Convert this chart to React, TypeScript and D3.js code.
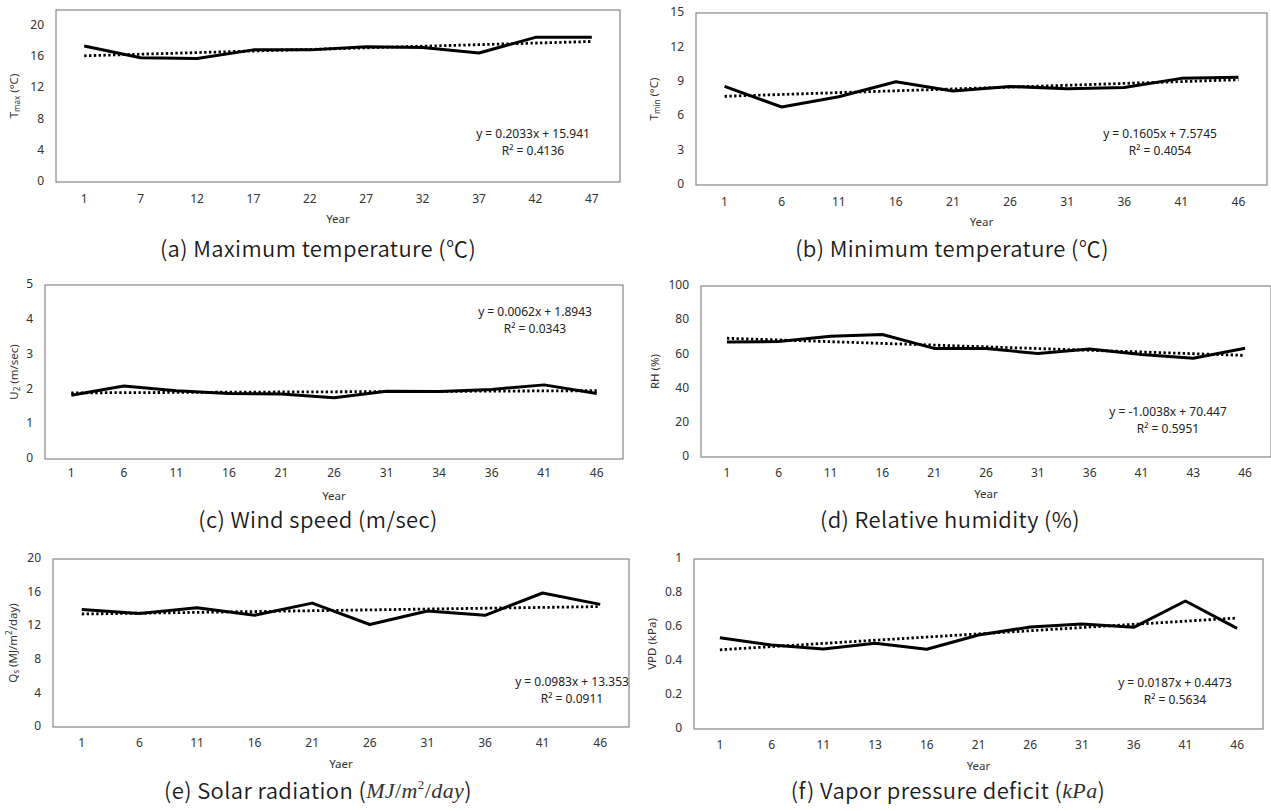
import React from 'react';
import * as d3 from 'd3';

// categories (year index labels) per panel
const yearsA = ['1', '7', '12', '17', '22', '27', '32', '37', '42', '47'];
const yearsB = ['1', '6', '11', '16', '21', '26', '31', '36', '41', '46'];
const yearsC = ['1', '6', '11', '16', '21', '26', '31', '34', '36', '41', '46'];
const yearsD = ['1', '6', '11', '16', '21', '26', '31', '36', '41', '43', '46'];
const yearsE = ['1', '6', '11', '16', '21', '26', '31', '36', '41', '46'];
const yearsF = ['1', '6', '11', '13', '16', '21', '26', '31', '36', '41', '46'];

// series values
const tmaxValues = [17.4, 15.9, 15.8, 16.9, 16.9, 17.3, 17.2, 16.5, 18.5, 18.5];
const tminValues = [8.6, 6.8, 7.7, 9.0, 8.2, 8.6, 8.4, 8.5, 9.3, 9.4];
const windValues = [1.83, 2.1, 1.96, 1.88, 1.87, 1.76, 1.95, 1.94, 2.0, 2.13, 1.88];
const rhValues = [67.3, 67.5, 70.6, 71.6, 63.5, 63.5, 60.5, 63.1, 60.0, 57.8, 63.6];
const solarValues = [14.0, 13.5, 14.2, 13.3, 14.75, 12.2, 13.8, 13.3, 15.95, 14.6];
const vpdValues = [0.537, 0.494, 0.47, 0.504, 0.469, 0.553, 0.6, 0.617, 0.598, 0.753, 0.592];

// linear trend lines (slope, intercept) as printed on each panel
const trendSlopes = [0.2033, 0.1605, 0.0062, -1.0038, 0.0983, 0.0187];
const trendIntercepts = [15.941, 7.5745, 1.8943, 70.447, 13.353, 0.4473];
const eqTexts = [
  'y = 0.2033x + 15.941',
  'y = 0.1605x + 7.5745',
  'y = 0.0062x + 1.8943',
  'y = -1.0038x + 70.447',
  'y = 0.0983x + 13.353',
  'y = 0.0187x + 0.4473',
];
const r2Texts = ['0.4136', '0.4054', '0.0343', '0.5951', '0.0911', '0.5634'];

// y axis ranges
const yMaxes = [22, 15, 5, 100, 20, 1];
const yTickValues = [
  [0, 4, 8, 12, 16, 20],
  [0, 3, 6, 9, 12, 15],
  [0, 1, 2, 3, 4, 5],
  [0, 20, 40, 60, 80, 100],
  [0, 4, 8, 12, 16, 20],
  [0, 0.2, 0.4, 0.6, 0.8, 1],
];
const xTitles = ['Year', 'Year', 'Year', 'Year', 'Yaer', 'Year'];

const FONT = 'Noto Sans, Open Sans, sans-serif';
const CAPFONT = '"Noto Sans CJK KR", "Noto Sans", sans-serif';
const MATH = '"Liberation Serif", "DejaVu Serif", serif';

type PanelProps = {
  idx: number;
  cats: string[];
  values: number[];
  box: { l: number; t: number; r: number; b: number };
  eqPos: [number, number];
  yLabelX: number;
  yLabel: React.ReactNode;
  labelGap?: number;
};

const Panel = ({ idx, cats, values, box, eqPos, yLabelX, yLabel, labelGap = 17 }: PanelProps) => {
  const x = d3.scaleBand<string>().domain(cats).range([box.l, box.r]);
  const y = d3.scaleLinear().domain([0, yMaxes[idx]]).range([box.b, box.t]);
  const cx = (c: string) => (x(c) as number) + x.bandwidth() / 2;

  const line = d3
    .line<number>()
    .x((_, i) => cx(cats[i]))
    .y((d) => y(d));

  const n = cats.length;
  const tr = (k: number) => trendSlopes[idx] * k + trendIntercepts[idx];
  const fmt = (v: number) => (yMaxes[idx] <= 1 && v !== 0 && v !== 1 ? d3.format('.1f')(v) : String(v));

  return (
    <g>
      <rect x={box.l} y={box.t} width={box.r - box.l} height={box.b - box.t} fill="#fff" stroke="#868686" strokeWidth={1.2} />
      {yTickValues[idx].map((t) => (
        <text key={t} x={box.l - 12} y={y(t)} textAnchor="end" dominantBaseline="middle" fontSize={12} fontFamily={FONT} fill="#333">
          {fmt(t)}
        </text>
      ))}
      {cats.map((c) => (
        <text key={c} x={cx(c)} y={box.b + labelGap} textAnchor="middle" dominantBaseline="middle" fontSize={12} fontFamily={FONT} fill="#333">
          {c}
        </text>
      ))}
      <text x={(box.l + box.r) / 2} y={box.b + 38} textAnchor="middle" dominantBaseline="middle" fontSize={11.5} fontFamily={FONT} fill="#333">
        {xTitles[idx]}
      </text>
      <text transform={`translate(${yLabelX},${(box.t + box.b) / 2}) rotate(-90)`} textAnchor="middle" dominantBaseline="middle" fontSize={11.5} fontFamily={FONT} fill="#333">
        {yLabel}
      </text>
      <line
        x1={cx(cats[0])}
        y1={y(tr(1))}
        x2={cx(cats[n - 1])}
        y2={y(tr(n))}
        stroke="#000"
        strokeWidth={2.8}
        strokeDasharray="2.4 2.4"
      />
      <path d={line(values) || ''} fill="none" stroke="#000" strokeWidth={3} strokeLinejoin="round" />
      <text x={eqPos[0]} y={eqPos[1]} textAnchor="middle" dominantBaseline="middle" fontSize={12} fontFamily={FONT} fill="#222">
        {eqTexts[idx]}
      </text>
      <text x={eqPos[0]} y={eqPos[1] + 17} textAnchor="middle" dominantBaseline="middle" fontSize={12} fontFamily={FONT} fill="#222">
        R² = {r2Texts[idx]}
      </text>
    </g>
  );
};

const sub = (s: string) => (
  <tspan fontSize={8} dy={3}>
    {s}
  </tspan>
);

const Caption = ({ x, y, children }: { x: number; y: number; children: React.ReactNode }) => (
  <text
    x={x}
    y={y}
    textAnchor="middle"
    dominantBaseline="middle"
    fontSize={22}
    fontWeight={350}
    letterSpacing={0.4}
    fontFamily={CAPFONT}
    fill="#1a1a1a"
  >
    {children}
  </text>
);

export default function App() {
  return (
    <svg width={1271} height={811} style={{ position: 'absolute', left: 0, top: 0, background: '#fff' }}>
      <Panel
        idx={0}
        cats={yearsA}
        values={tmaxValues}
        box={{ l: 56, t: 10, r: 620, b: 182 }}
        eqPos={[533, 135]}
        yLabelX={15}
        labelGap={18}
        yLabel={
          <>
            T{sub('max')}
            <tspan dy={-3}> (°C)</tspan>
          </>
        }
      />
      <Panel
        idx={1}
        cats={yearsB}
        values={tminValues}
        box={{ l: 696, t: 13, r: 1267, b: 185 }}
        eqPos={[1160, 135]}
        yLabelX={655}
        labelGap={18}
        yLabel={
          <>
            T{sub('min')}
            <tspan dy={-3}> (°C)</tspan>
          </>
        }
      />
      <Panel
        idx={2}
        cats={yearsC}
        values={windValues}
        box={{ l: 45, t: 285, r: 623, b: 459 }}
        eqPos={[535, 313]}
        yLabelX={15}
        labelGap={15}
        yLabel={
          <>
            U{sub('2')}
            <tspan dy={-3}> (m/sec)</tspan>
          </>
        }
      />
      <Panel
        idx={3}
        cats={yearsD}
        values={rhValues}
        box={{ l: 701, t: 286, r: 1271, b: 457 }}
        eqPos={[1168, 413]}
        yLabelX={656}
        yLabel={<>RH (%)</>}
      />
      <Panel
        idx={4}
        cats={yearsE}
        values={solarValues}
        box={{ l: 53, t: 559, r: 629, b: 727 }}
        eqPos={[572, 683]}
        yLabelX={14}
        yLabel={
          <>
            Q{sub('s')}
            <tspan dy={-3}> (MJ/m</tspan>
            <tspan fontSize={8} dy={-4}>2</tspan>
            <tspan dy={4}>/day)</tspan>
          </>
        }
      />
      <Panel
        idx={5}
        cats={yearsF}
        values={vpdValues}
        box={{ l: 694, t: 559, r: 1263, b: 729 }}
        eqPos={[1175, 684]}
        yLabelX={653}
        yLabel={<>VPD (kPa)</>}
      />

      <Caption x={318} y={251}>(a) Maximum temperature (℃)</Caption>
      <Caption x={952} y={251}>(b) Minimum temperature (℃)</Caption>
      <Caption x={318} y={522}>(c) Wind speed (m/sec)</Caption>
      <Caption x={950} y={522}>(d) Relative humidity (%)</Caption>
      <Caption x={318} y={793}>
        (e) Solar radiation (
        <tspan fontFamily={MATH} fontStyle="italic" fontWeight={400} fill="#333">MJ</tspan>
        <tspan fontFamily={MATH} fontWeight={400} fill="#333">/</tspan>
        <tspan fontFamily={MATH} fontStyle="italic" fontWeight={400} fill="#333">m</tspan>
        <tspan fontFamily={MATH} fontWeight={400} fontSize={13} dy={-7} fill="#333">2</tspan>
        <tspan fontFamily={MATH} fontWeight={400} dy={7} fill="#333">/</tspan>
        <tspan fontFamily={MATH} fontStyle="italic" fontWeight={400} fill="#333">day</tspan>)
      </Caption>
      <Caption x={948} y={793}>
        (f) Vapor pressure deficit (
        <tspan fontFamily={MATH} fontStyle="italic" fontWeight={400} fill="#333">kPa</tspan>)
      </Caption>
    </svg>
  );
}
